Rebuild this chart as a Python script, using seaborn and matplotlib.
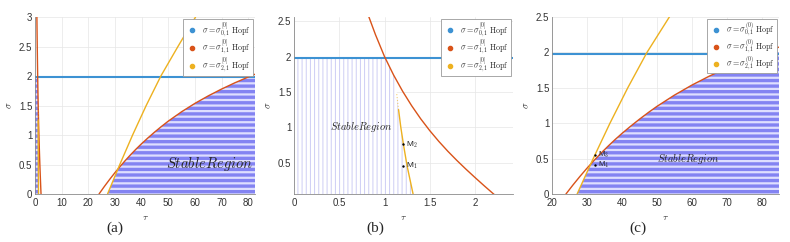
import numpy as np
import matplotlib
matplotlib.use('Agg')
import matplotlib.pyplot as plt
import seaborn as sns
from matplotlib.lines import Line2D

# ---------------------------------------------------------------------------
# Data
# ---------------------------------------------------------------------------
SIGMA_01 = 1.975  # blue Hopf line

# red Hopf curve, large-delay branch
red_far_tau = [24, 26, 28, 30, 32, 34, 36, 38, 40, 42.5, 45, 47.5, 50,
               55, 60, 65, 70, 75, 80, 85]
red_far_sigma = [0, 0.127, 0.248, 0.363, 0.472, 0.575, 0.673, 0.766, 0.854,
                 0.957, 1.055, 1.148, 1.236, 1.395, 1.537, 1.664, 1.78,
                 1.886, 1.984, 2.075]
# yellow Hopf curve, large-delay branch
yel_far_sigma = [0, 0.5, 1.0, 1.5, 2.0, 2.5, 3.0]
yel_far_tau = [27.2, 31.8, 36.6, 41.7, 47.2, 53.6, 60.2]
# red Hopf curve, small-delay branch
red_near_tau = [0.7, 0.8, 0.9, 1.0, 1.1, 1.2, 1.3, 1.4, 1.5, 1.6, 1.7,
                1.8, 1.9, 2.0, 2.1, 2.2, 2.26]
red_near_sigma = [3.035, 2.655, 2.31, 2.0, 1.74, 1.51, 1.305, 1.12, 0.953,
                  0.801, 0.661, 0.531, 0.408, 0.29, 0.175, 0.063, 0.0]
# yellow Hopf curve, small-delay branch
yel_near_tau = [1.135, 1.155, 1.18, 1.21, 1.25, 1.315, 1.325]
yel_near_sigma = [1.47, 1.25, 1.0, 0.75, 0.45, 0.06, 0.0]

# marked points
pts_b_tau = [1.2, 1.2]
pts_b_sigma = [0.45, 0.76]
pts_b_lab = [r'M$_1$', r'M$_2$']
pts_c_tau = [32.4, 32.4]
pts_c_sigma = [0.556, 0.41]
pts_c_lab = [r'M$_3$', r'M$_4$']

BLUE, RED, YEL = '#3d92d3', '#D95319', '#EDB120'
HATCH_FACE, HATCH_LINE = '#dedeff', '#8383f2'

sns.set_theme(style='whitegrid')
plt.rcParams['font.family'] = ['Liberation Sans', 'DejaVu Sans']
plt.rcParams['mathtext.fontset'] = 'cm'


def style_axes(ax, xlim, ylim, xticks, yticks):
    ax.set_xlim(*xlim)
    ax.set_ylim(*ylim)
    ax.set_xticks(xticks)
    ax.set_yticks(yticks)
    ax.set_xticklabels([f'{t:g}' for t in xticks])
    ax.set_yticklabels([f'{t:g}' for t in yticks])
    ax.set_facecolor('white')
    ax.grid(True, color='#e6e6e6', lw=0.5)
    for s in ('top', 'right'):
        ax.spines[s].set_visible(False)
    for s in ('left', 'bottom'):
        ax.spines[s].set_color('#8a8a8a')
        ax.spines[s].set_linewidth(0.6)
    ax.tick_params(axis='both', labelsize=7, colors='#8a8a8a', labelcolor='#333333',
                   direction='in', length=2, width=0.5, pad=2)
    ax.tick_params(axis='x', pad=3)
    ax.set_xlabel(r'$\tau$', fontsize=7, labelpad=3)
    ax.set_ylabel(r'$\sigma$', fontsize=7, labelpad=3)


def add_legend(ax, sup):
    labels = [rf'$\sigma=\sigma^{{{sup}}}_{{{k},1}}\ \mathrm{{Hopf}}$' for k in (0, 1, 2)]
    handles = [Line2D([], [], ls='', marker='o', ms=3.0, color=c) for c in (BLUE, RED, YEL)]
    leg = ax.legend(handles, labels, loc='upper right', prop={'size': 5.8},
                    frameon=True, fancybox=False, framealpha=1, edgecolor='#9a9a9a',
                    borderpad=0.2, handletextpad=0.4, handlelength=1.8,
                    labelspacing=0.0, borderaxespad=0.3)
    leg.get_frame().set_linewidth(0.6)


def far_region(ax, xmax):
    s = np.linspace(0, 2.0, 500)
    left = np.maximum(np.interp(s, yel_far_sigma, yel_far_tau),
                      np.interp(s, red_far_sigma, red_far_tau))
    plt.rcParams['hatch.linewidth'] = 2.4
    ax.fill_betweenx(s, left, xmax, where=left < xmax, facecolor=HATCH_FACE,
                     edgecolor=HATCH_LINE, hatch='---', lw=0, zorder=1)


def near_region_right(s):
    yel = np.interp(s, yel_near_sigma[::-1], yel_near_tau[::-1])
    red = np.interp(s, red_near_sigma[::-1], red_near_tau[::-1])
    cap = np.minimum(red, yel_near_tau[0])
    return np.where(s <= yel_near_sigma[0], yel, cap)


def draw_far_curves(ax):
    sns.lineplot(x=red_far_tau, y=red_far_sigma, sort=False, estimator=None,
                 color=RED, lw=1.0, ax=ax, zorder=3)
    sns.lineplot(x=yel_far_tau, y=yel_far_sigma, sort=False, estimator=None,
                 color=YEL, lw=1.0, ax=ax, zorder=3)


def draw_near_curves(ax):
    sns.lineplot(x=red_near_tau, y=red_near_sigma, sort=False, estimator=None,
                 color=RED, lw=1.0, ax=ax, zorder=3)
    sns.lineplot(x=yel_near_tau[1:], y=yel_near_sigma[1:], sort=False, estimator=None,
                 color=YEL, lw=1.0, ax=ax, zorder=3)
    ax.plot(yel_near_tau[:2], yel_near_sigma[:2], color=YEL, lw=0.8, ls=':',
            alpha=0.6, zorder=3)


fig = plt.figure(figsize=(7.9, 2.42), dpi=100)
ax_a = fig.add_axes([0.0443, 0.1983, 0.2785, 0.7314])
ax_b = fig.add_axes([0.3722, 0.1983, 0.2772, 0.7314])
ax_c = fig.add_axes([0.6987, 0.1983, 0.2874, 0.7314])

# ---------------------------- (a) ----------------------------------------
far_region(ax_a, 82.5)
s_near = np.linspace(0, SIGMA_01, 300)
ax_a.fill_betweenx(s_near, 0, near_region_right(s_near), facecolor=HATCH_FACE,
                   edgecolor=HATCH_LINE, hatch='---', lw=0, zorder=1)
ax_a.axhline(SIGMA_01, color=BLUE, lw=1.5, zorder=2)
draw_far_curves(ax_a)
draw_near_curves(ax_a)
ax_a.text(65.3, 0.51, r'$Stable Region$', fontsize=10.5, ha='center', va='center', zorder=4)
style_axes(ax_a, (0, 82.5), (0, 3), list(range(0, 81, 10)),
           [0, 0.5, 1, 1.5, 2, 2.5, 3])
add_legend(ax_a, '[0]')

# ---------------------------- (b) ----------------------------------------
plt.rcParams['hatch.linewidth'] = 0.7
ax_b.fill_betweenx(s_near, 0, near_region_right(s_near), facecolor='white',
                   edgecolor='#cdcdf4', hatch='||||', lw=0, zorder=1)
ax_b.axhline(SIGMA_01, color=BLUE, lw=1.5, zorder=2)
draw_near_curves(ax_b)
sns.scatterplot(x=pts_b_tau, y=pts_b_sigma, color='black', s=3, linewidth=0,
                ax=ax_b, zorder=4)
for t, s, lab in zip(pts_b_tau, pts_b_sigma, pts_b_lab):
    ax_b.text(t + 0.04, s, lab, fontsize=6, va='center', ha='left', zorder=4)
ax_b.text(0.74, 1.0, r'$Stable Region$', fontsize=7.5, ha='center', va='center', zorder=4)
style_axes(ax_b, (0, 2.42), (0.057, 2.56), [0, 0.5, 1, 1.5, 2],
           [0.5, 1, 1.5, 2, 2.5])
add_legend(ax_b, '[0]')

# ---------------------------- (c) ----------------------------------------
far_region(ax_c, 85)
ax_c.axhline(SIGMA_01, color=BLUE, lw=1.5, zorder=2)
draw_far_curves(ax_c)
sns.scatterplot(x=pts_c_tau, y=pts_c_sigma, color='black', s=3, linewidth=0,
                ax=ax_c, zorder=4)
for t, s, lab in zip(pts_c_tau, pts_c_sigma, pts_c_lab):
    ax_c.text(t + 0.9, s, lab, fontsize=5.5, va='center', ha='left', zorder=4)
ax_c.text(58.9, 0.5, r'$Stable Region$', fontsize=7.5, ha='center', va='center', zorder=4)
style_axes(ax_c, (20, 85), (0, 2.5), list(range(20, 81, 10)),
           [0, 0.5, 1, 1.5, 2, 2.5])
add_legend(ax_c, '(0)')

# panel tags
for x, tag in ((115, '(a)'), (375, '(b)'), (638, '(c)')):
    fig.text(x / 790, 1 - 228 / 242, tag, fontsize=11, ha='center', va='center',
             family='Liberation Serif')

fig.savefig('out.png', dpi=100)
